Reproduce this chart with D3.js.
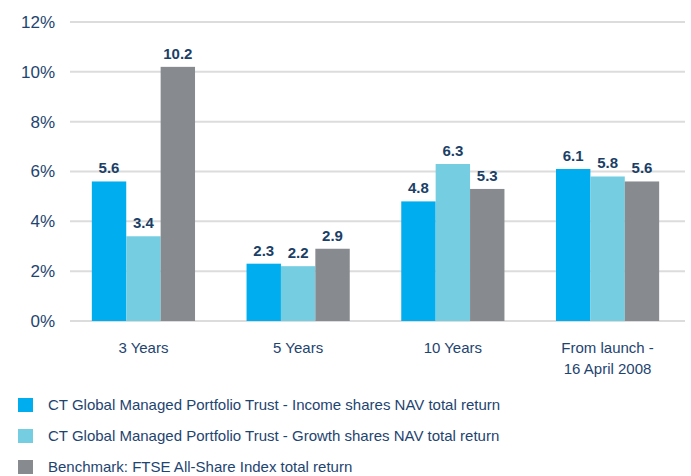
<!DOCTYPE html>
<meta charset="utf-8">
<style>
body { margin: 0; background: #fff; }
text { font-family: "Liberation Sans", sans-serif; fill: #1e4470; }
.val { font-weight: bold; font-size: 15px; fill: #1b3f66; }
</style>
<body>
<script src="https://cdn.jsdelivr.net/npm/d3@7"></script>
<script>

var width = 691,
    height = 476;

var periods = [["3 Years"], ["5 Years"], ["10 Years"], ["From launch -", "16 April 2008"]];
var seriesNames = [
  "CT Global Managed Portfolio Trust - Income shares NAV total return",
  "CT Global Managed Portfolio Trust - Growth shares NAV total return",
  "Benchmark: FTSE All-Share Index total return"
];
var incomeNav = [5.6, 2.3, 4.8, 6.1];
var growthNav = [3.4, 2.2, 6.3, 5.8];
var benchmark = [10.2, 2.9, 5.3, 5.6];
var yTicks = [0, 2, 4, 6, 8, 10, 12];
var colors = ["#00aeef", "#74cde0", "#878a8f"];

var series = [incomeNav, growthNav, benchmark];

var svg = d3.select("body").append("svg")
    .attr("width", width)
    .attr("height", height);

var x = d3.scaleBand()
    .domain(d3.range(periods.length))
    .range([66, 685])
    .paddingInner(0.333)
    .paddingOuter(0.167);

var xs = d3.scaleBand()
    .domain(d3.range(series.length))
    .range([0, x.bandwidth()]);

var y = d3.scaleLinear()
    .domain([0, 12])
    .range([321, 22]);

// grid
svg.selectAll(".grid")
  .data(yTicks)
  .enter()
  .append("line")
  .attr("x1", 70)
  .attr("x2", 685)
  .attr("y1", function(d){ return y(d); })
  .attr("y2", function(d){ return y(d); })
  .attr("stroke", "#dcdcdc")
  .attr("stroke-width", 2);

svg.selectAll(".ylab")
  .data(yTicks)
  .enter()
  .append("text")
  .attr("x", 55)
  .attr("y", function(d){ return y(d); })
  .attr("dy", "0.35em")
  .attr("text-anchor", "end")
  .style("font-size", "17px")
  .text(function(d){ return d + "%"; });

// bars
var groups = svg.selectAll(".grp")
  .data(periods)
  .enter()
  .append("g")
  .attr("transform", function(d, i){ return "translate(" + x(i) + ",0)"; });

groups.each(function(p, i) {
  var g = d3.select(this);
  series.forEach(function(s, j) {
    g.append("rect")
      .attr("x", xs(j))
      .attr("width", xs.bandwidth())
      .attr("y", y(s[i]))
      .attr("height", y(0) - y(s[i]))
      .attr("fill", colors[j]);
    g.append("text")
      .attr("class", "val")
      .attr("x", xs(j) + xs.bandwidth() / 2)
      .attr("y", y(s[i]) - 8)
      .attr("text-anchor", "middle")
      .text(s[i].toFixed(1));
  });
  var t = g.append("text")
    .attr("x", x.bandwidth() / 2)
    .attr("y", 353)
    .attr("text-anchor", "middle")
    .style("font-size", "15px");
  p.forEach(function(line, k) {
    t.append("tspan")
      .attr("x", x.bandwidth() / 2)
      .attr("dy", k === 0 ? 0 : 21)
      .text(line);
  });
});

// legend
var legend = svg.selectAll(".leg")
  .data(seriesNames)
  .enter()
  .append("g")
  .attr("transform", function(d, i){ return "translate(0," + (405 + i * 31) + ")"; });

legend.append("rect")
  .attr("x", 18)
  .attr("y", -7)
  .attr("width", 15)
  .attr("height", 14)
  .attr("fill", function(d, i){ return colors[i]; });

legend.append("text")
  .attr("x", 48)
  .attr("y", 0)
  .attr("dy", "0.35em")
  .style("font-size", "15px")
  .text(function(d){ return d; });

</script>
